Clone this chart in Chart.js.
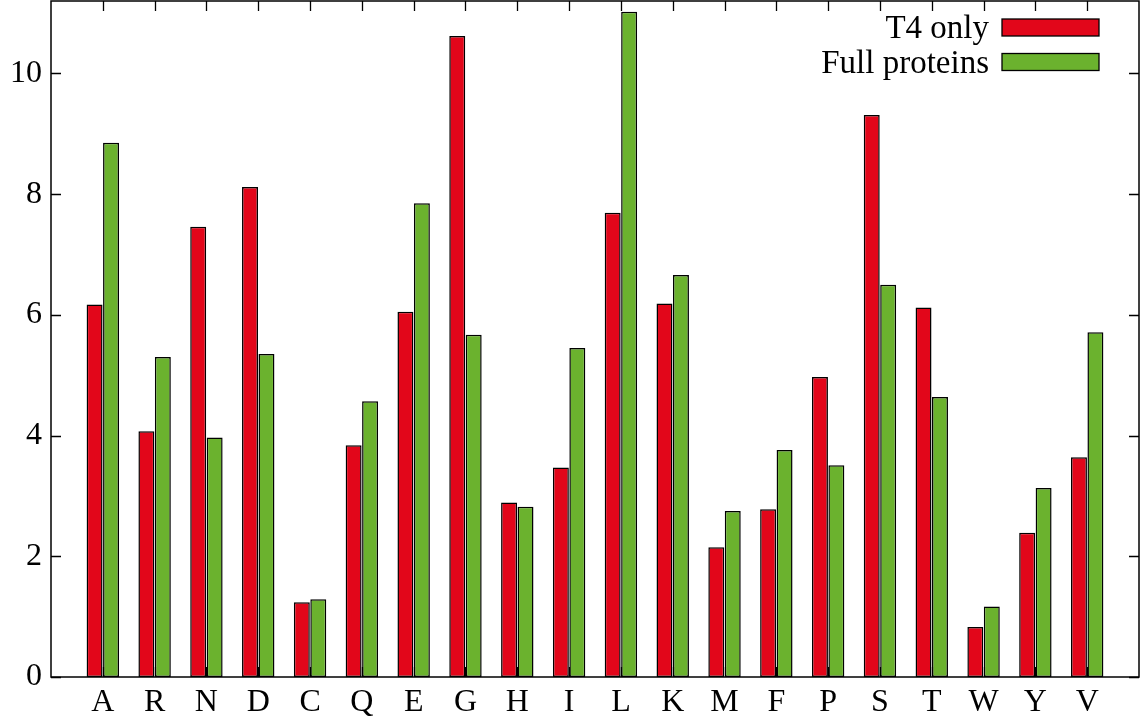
<!DOCTYPE html>
<html>
<head>
<meta charset="utf-8">
<script src="https://cdn.jsdelivr.net/npm/chart.js@4.4.1/dist/chart.umd.min.js"></script>
<style>
  html, body { margin: 0; padding: 0; background: #ffffff; }
  #wrap { width: 1140px; height: 718px; position: relative; }
</style>
</head>
<body>
<div id="wrap"><canvas id="c" width="1140" height="718"></canvas></div>
<script>
const categories = ['A','R','N','D','C','Q','E','G','H','I','L','K','M','F','P','S','T','W','Y','V'];
const t4Only = [6.17,4.07,7.46,8.12,1.24,3.84,6.05,10.62,2.89,3.47,7.69,6.19,2.15,2.78,4.97,9.31,6.12,0.83,2.39,3.64];
const fullProteins = [8.85,5.30,3.97,5.35,1.29,4.57,7.85,5.67,2.82,5.45,11.02,6.66,2.75,3.76,3.51,6.50,4.64,1.17,3.13,5.71];
const yTicks = [0,2,4,6,8,10];
const seriesLabels = ['T4 only','Full proteins'];

const RED = '#e2061a';
const GREEN = '#6bb22e';
const FONT = 'Liberation Serif';
const FSIZE = 32;
const LSIZE = 33;

const frame = {
  id: 'frame',
  beforeDatasetsDraw(chart) {
    const {ctx, chartArea: a, scales: {x, y}} = chart;
    ctx.save();
    ctx.strokeStyle = '#000';
    ctx.lineWidth = 1.3;
    const L = 10;
    ctx.beginPath();
    yTicks.forEach(v => {
      const py = Math.round(y.getPixelForValue(v)) + 0.5;
      ctx.moveTo(a.left, py); ctx.lineTo(a.left + L, py);
      ctx.moveTo(a.right, py); ctx.lineTo(a.right - L, py);
    });
    categories.forEach((c, i) => {
      const px = Math.round(x.getPixelForValue(i)) + 0.5;
      ctx.moveTo(px, a.top); ctx.lineTo(px, a.top + L);
      ctx.moveTo(px, a.bottom); ctx.lineTo(px, a.bottom - L);
    });
    ctx.stroke();
    ctx.restore();
  },
  afterDraw(chart) {
    const {ctx, chartArea: a} = chart;
    ctx.save();
    ctx.strokeStyle = '#000';
    ctx.lineWidth = 1.5;
    ctx.strokeRect(a.left, a.top, a.right - a.left, a.bottom - a.top);
    // legend (text right-aligned, sample box on the right)
    const rows = [27.5, 62];
    ctx.font = LSIZE + 'px "' + FONT + '"';
    ctx.textAlign = 'right';
    ctx.textBaseline = 'middle';
    chart.data.datasets.forEach((ds, i) => {
      const cy = rows[i];
      ctx.fillStyle = '#000';
      ctx.fillText(ds.label, 989, cy + 2);
      ctx.fillStyle = ds.backgroundColor;
      ctx.fillRect(1002, cy - 8.5, 97, 17);
      ctx.lineWidth = 1.3;
      ctx.strokeStyle = '#000';
      ctx.strokeRect(1002, cy - 8.5, 97, 17);
    });
    ctx.restore();
  }
};

new Chart(document.getElementById('c'), {
  type: 'bar',
  data: {
    datasets: [
      { label: seriesLabels[0], data: t4Only.map((v, i) => ({x: i, y: v})), backgroundColor: RED, borderColor: '#000', borderWidth: 1.5, borderSkipped: false },
      { label: seriesLabels[1], data: fullProteins.map((v, i) => ({x: i, y: v})), backgroundColor: GREEN, borderColor: '#000', borderWidth: 1.5, borderSkipped: false }
    ]
  },
  options: {
    responsive: false,
    animation: false,
    devicePixelRatio: 1,
    layout: { padding: { left: 0, right: 1, top: 1, bottom: 0 } },
    datasets: { bar: { categoryPercentage: 0.635, barPercentage: 0.97 } },
    plugins: { legend: { display: false }, tooltip: { enabled: false } },
    scales: {
      x: {
        type: 'linear',
        offset: false,
        min: -1, max: 20,
        afterBuildTicks: s => { s.ticks = categories.map((c, i) => ({value: i})); },
        afterFit: s => { s.height = 41; s.paddingLeft = 0; s.paddingRight = 0; },
        grid: { display: false, drawTicks: false, offset: false },
        border: { display: false },
        ticks: {
          padding: 6,
          maxRotation: 0, autoSkip: false,
          color: '#000',
          font: { family: FONT, size: FSIZE },
          callback: v => categories[v] ?? ''
        }
      },
      y: {
        min: 0, max: 11.2,
        afterBuildTicks: s => { s.ticks = yTicks.map(v => ({value: v})); },
        afterFit: s => { s.width = 51; s.paddingTop = 0; s.paddingBottom = 0; },
        grid: { display: false, drawTicks: false },
        border: { display: false },
        ticks: {
          padding: 9,
          color: '#000',
          font: { family: FONT, size: FSIZE }
        }
      }
    }
  },
  plugins: [frame]
});
</script>
</body>
</html>
